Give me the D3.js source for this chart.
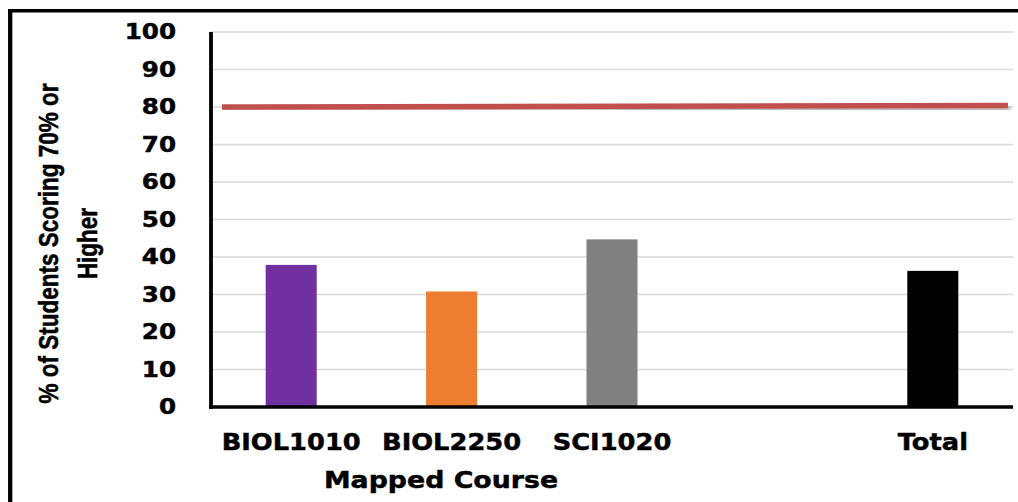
<!DOCTYPE html>
<html>
<head>
<meta charset="utf-8">
<script src="https://cdn.jsdelivr.net/npm/d3@7"></script>
<style>
  html, body { margin: 0; padding: 0; background: #ffffff; }
  svg { display: block; }
  text { stroke: #000; stroke-width: 0.45px; paint-order: stroke; }
</style>
</head>
<body>
<svg id="chart" width="1018" height="502"></svg>
<script>
// Courses on the x axis (the fourth slot is left empty before the total)
const courses = ["BIOL1010", "BIOL2250", "SCI1020", "", "Total"];
// % of students scoring 70% or higher, per course
const passRates = [37.9, 30.8, 44.7, null, 36.3];
const barColors = ["#7030a0", "#ed7d31", "#808080", "none", "#000000"];
// Benchmark line (start and end values)
const benchmark = [80.0, 80.4];
// Y axis tick values
const yTicks = [0, 10, 20, 30, 40, 50, 60, 70, 80, 90, 100];

const svg = d3.select("#chart");
const plot = { left: 211, right: 1013, top: 32, bottom: 407 };

const x = d3.scaleBand()
  .domain(d3.range(courses.length))
  .range([plot.left, plot.right])
  .paddingInner(0.682)
  .paddingOuter(0.341);

const y = d3.scaleLinear().domain([0, 100]).range([plot.bottom, plot.top]);

// Shadow under the benchmark line
const defs = svg.append("defs");
const shadow = defs.append("filter").attr("id", "lineShadow")
  .attr("x", "-5%").attr("y", "-200%").attr("width", "110%").attr("height", "500%");
shadow.append("feGaussianBlur").attr("in", "SourceAlpha").attr("stdDeviation", 2.2).attr("result", "blur");
shadow.append("feOffset").attr("in", "blur").attr("dx", 2).attr("dy", 4).attr("result", "off");
shadow.append("feComponentTransfer").attr("in", "off").attr("result", "soft")
  .append("feFuncA").attr("type", "linear").attr("slope", 0.35);
const merge = shadow.append("feMerge");
merge.append("feMergeNode").attr("in", "soft");
merge.append("feMergeNode").attr("in", "SourceGraphic");

// Outer frame
svg.append("path")
  .attr("d", "M8,10.7 H1018")
  .attr("stroke", "#000").attr("stroke-width", 3.4).attr("fill", "none");
svg.append("path")
  .attr("d", "M10.2,9 V502")
  .attr("stroke", "#000").attr("stroke-width", 4.3).attr("fill", "none");

// Horizontal gridlines
svg.append("g")
  .selectAll("line")
  .data(yTicks.filter(d => d > 0))
  .join("line")
  .attr("x1", plot.left).attr("x2", plot.right)
  .attr("y1", d => y(d)).attr("y2", d => y(d))
  .attr("stroke", "#d9d9d9").attr("stroke-width", 1.5);

// Bars
svg.append("g")
  .selectAll("rect")
  .data(passRates.map((v, i) => ({ v, i })).filter(d => d.v !== null))
  .join("rect")
  .attr("x", d => x(d.i))
  .attr("width", x.bandwidth())
  .attr("y", d => y(d.v))
  .attr("height", d => y(0) - y(d.v))
  .attr("fill", d => barColors[d.i]);

// Benchmark line across the plot
const bx = d3.scaleLinear().domain([0, benchmark.length - 1]).range([plot.left + 11, plot.right - 5]);
svg.append("path")
  .datum(benchmark)
  .attr("d", d3.line().x((d, i) => bx(i)).y(d => y(d)))
  .attr("stroke", "#c0504d").attr("stroke-width", 5.5).attr("fill", "none")
  .attr("filter", "url(#lineShadow)");

// Axis lines
svg.append("line")
  .attr("x1", plot.left).attr("x2", plot.left)
  .attr("y1", y(100)).attr("y2", y(0) + 2)
  .attr("stroke", "#000").attr("stroke-width", 3.8);
svg.append("line")
  .attr("x1", plot.left - 2).attr("x2", plot.right)
  .attr("y1", y(0)).attr("y2", y(0))
  .attr("stroke", "#000").attr("stroke-width", 3.6);

const labelFont = "'DejaVu Sans', Verdana, sans-serif";

// Y tick labels
svg.append("g")
  .selectAll("text")
  .data(yTicks)
  .join("text")
  .attr("transform", d => `translate(176,${y(d) + 7.4}) scale(1.2,1)`)
  .attr("text-anchor", "end")
  .attr("font-family", labelFont)
  .attr("font-weight", "bold")
  .attr("font-size", 20.5)
  .attr("fill", "#000")
  .text(d => d);

// X category labels
svg.append("g")
  .selectAll("text")
  .data(courses.map((c, i) => ({ c, i })).filter(d => d.c !== ""))
  .join("text")
  .attr("transform", d => `translate(${x(d.i) + x.bandwidth() / 2},450) scale(1.12,1)`)
  .attr("text-anchor", "middle")
  .attr("font-family", labelFont)
  .attr("font-weight", "bold")
  .attr("font-size", 23)
  .attr("fill", "#000")
  .text(d => d.c);

// X axis title
svg.append("text")
  .attr("transform", "translate(441,487.5) scale(1.14,1)")
  .attr("text-anchor", "middle")
  .attr("font-family", labelFont)
  .attr("font-weight", "bold")
  .attr("font-size", 23.5)
  .attr("fill", "#000")
  .text("Mapped Course");

// Y axis title (two lines, rotated)
const yTitle = ["% of Students Scoring 70% or", "Higher"];
svg.append("g")
  .selectAll("text")
  .data(yTitle)
  .join("text")
  .attr("transform", (d, i) => `translate(${58 + i * 39},${243.5}) scale(1.2,1) rotate(-90)`)
  .attr("text-anchor", "middle")
  .attr("font-family", "'Liberation Sans', Arial, sans-serif")
  .attr("font-weight", "bold")
  .attr("font-size", 22.5)
  .attr("fill", "#000")
  .text(d => d);
</script>
</body>
</html>
